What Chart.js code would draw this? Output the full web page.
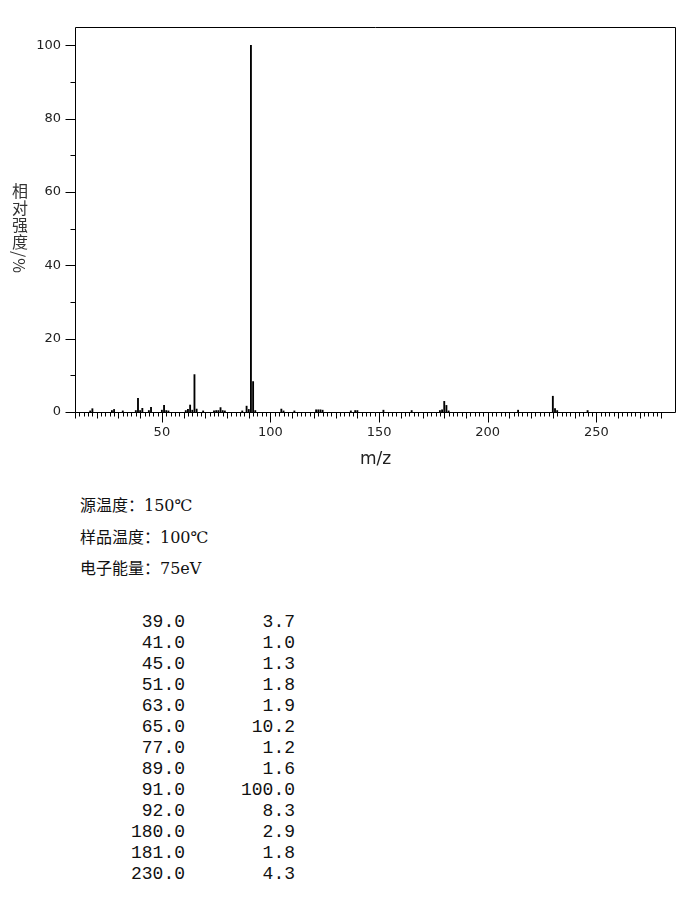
<!DOCTYPE html>
<html>
<head>
<meta charset="utf-8">
<script src="https://cdn.jsdelivr.net/npm/chart.js@4.4.1/dist/chart.umd.min.js"></script>
<style>
    body { margin: 0; background: #fff; }
    #wrap { position: relative; width: 689px; height: 907px; overflow: hidden; }
    #myChart { position: absolute; left: 0; top: 0; }
    .ylab { position: absolute; left: 12px; top: 183px; writing-mode: vertical-rl; font-size: 16px; line-height: 16px; letter-spacing: 1px; font-family: "Noto Sans CJK SC"; color: #333; }
    .info { position: absolute; left: 80px; font-size: 16px; line-height: 20px; font-family: "DejaVu Serif", "Noto Sans CJK SC"; color: #111; }
    .col { position: absolute; top: 612px; font-size: 18px; line-height: 21px; font-family: "Liberation Mono", monospace; text-align: right; white-space: pre; color: #111; }
</style>
</head>
<body>
<div id="wrap">
    <canvas id="myChart" width="689" height="480"></canvas>
    <div class="ylab">相对强度/%</div>
    <div class="info" style="top:496px">源温度：150℃</div>
    <div class="info" style="top:528px">样品温度：100℃</div>
    <div class="info" style="top:559px">电子能量：75eV</div>
    <div class="col" id="colMz" style="left:95px;width:90px"></div>
    <div class="col" id="colInt" style="left:200px;width:95px"></div>
</div>
<script>
// picos del espectro (m/z e intensidad relativa %)
const mz = [17, 18, 27, 28, 32, 38, 39, 40, 41, 44, 45, 50, 51, 52, 53,
    61, 62, 63, 64, 65, 66, 69, 74, 75, 76, 77, 78, 79, 87, 89, 90, 91, 92, 93,
    105, 106, 111, 121, 122, 123, 124, 137, 139, 140, 152, 165,
    178, 179, 180, 181, 182, 214, 230, 231, 232, 246]
const intensidad = [0.3, 0.9, 0.4, 0.7, 0.3, 0.4, 3.7, 0.4, 1.0, 0.4, 1.3, 0.5, 1.8, 0.4, 0.3,
    0.4, 0.7, 1.9, 0.5, 10.2, 0.8, 0.3, 0.3, 0.4, 0.4, 1.2, 0.4, 0.3, 0.3, 1.6, 0.7, 100.0, 8.3, 0.4,
    0.8, 0.3, 0.3, 0.6, 0.6, 0.6, 0.5, 0.3, 0.4, 0.4, 0.5, 0.4,
    0.4, 0.6, 2.9, 1.8, 0.3, 0.5, 4.3, 0.9, 0.4, 0.4]

const xTicks = [50, 100, 150, 200, 250]
const yTicks = [0, 20, 40, 60, 80, 100]

// tabla: solo los picos >= 1%
const tablaMz = []
const tablaInt = []
mz.forEach((m, i) => {
    if (intensidad[i] >= 1) {
        tablaMz.push(m.toFixed(1))
        tablaInt.push(intensidad[i].toFixed(1))
    }
})
document.getElementById('colMz').textContent = tablaMz.join('\n')
document.getElementById('colInt').textContent = tablaInt.join('\n')

const marco = {
    id: 'marco',
    afterDatasetsDraw(chart) {
        const c = chart.ctx
        const a = chart.chartArea
        const sx = chart.scales.x
        const sy = chart.scales.y
        const l = Math.round(a.left) + 0.5
        const r = Math.round(a.right) - 0.5
        const t = Math.round(a.top) + 0.5
        const b = Math.round(a.bottom) + 0.5
        c.save()
        c.strokeStyle = '#000'
        c.lineWidth = 1
        c.beginPath()
        c.moveTo(l, b); c.lineTo(l, t); c.lineTo(r, t); c.lineTo(r, b)
        c.moveTo(l, b); c.lineTo(r, b)
        for (let v = 0; v <= 100; v += 10) {
            const py = Math.round(sy.getPixelForValue(v)) + 0.5
            const len = v % 20 === 0 ? 10 : 5
            c.moveTo(l - len, py); c.lineTo(l, py)
        }
        for (let v = 10; v <= 280; v += 2) {
            const px = Math.round(sx.getPixelForValue(v)) + 0.5
            const len = v % 50 === 0 ? 10 : (v % 10 === 0 ? 6 : 4)
            c.moveTo(px, b); c.lineTo(px, b + len)
        }
        c.stroke()
        c.restore()
    }
}

const ctx = document.getElementById('myChart')
const espectro = new Chart(ctx, {
    type: 'bar',
    data: {
        datasets: [{
            data: mz.map((m, i) => ({ x: m, y: intensidad[i] })),
            backgroundColor: '#000',
            borderWidth: 0,
            barThickness: 1.2
        }]
    },
    options: {
        responsive: false,
        animation: false,
        events: [],
        layout: { padding: { top: 27, right: 13, left: 0, bottom: 0 } },
        plugins: { legend: { display: false }, tooltip: { enabled: false } },
        scales: {
            x: {
                type: 'linear',
                offset: false,
                min: 10,
                max: 286.7,
                grid: { display: false, drawTicks: false },
                border: { display: false },
                afterBuildTicks: s => { s.ticks = xTicks.map(v => ({ value: v })) },
                afterFit: s => { s.height = 68 },
                ticks: { padding: 13, color: '#222', font: { family: 'DejaVu Sans', size: 13 }, maxRotation: 0, autoSkip: false },
                title: { display: true, text: 'm/z', color: '#222', font: { family: 'DejaVu Sans', size: 17 }, padding: { top: 0, bottom: 10 } }
            },
            y: {
                min: 0,
                max: 105,
                grid: { display: false, drawTicks: false },
                border: { display: false },
                afterBuildTicks: s => { s.ticks = yTicks.map(v => ({ value: v })) },
                afterFit: s => { s.width = 75 },
                ticks: { padding: 14, color: '#222', font: { family: 'DejaVu Sans', size: 13 } }
            }
        }
    },
    plugins: [marco]
})
</script>
</body>
</html>
